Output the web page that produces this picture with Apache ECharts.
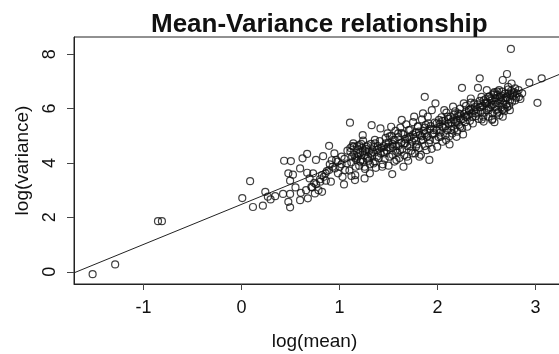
<!DOCTYPE html>
<html>
<head>
<meta charset="utf-8">
<script src="https://cdn.jsdelivr.net/npm/echarts@6/dist/echarts.min.js"></script>
<style>
  html, body { margin: 0; padding: 0; background: #fff; }
  #chart { width: 559px; height: 354px; }
</style>
</head>
<body>
<div id="chart"></div>
<script>
// tick labels
const xTicks = [-1, 0, 1, 2, 3];
const yTicks = [0, 2, 4, 6, 8];

// fitted line at both ends
const fitLine = [[-1.71, -0.04], [3.3, 7.34]];

// points: [log(mean), log(variance)]
const outliers = [
  [-1.52, -0.09], [-1.29, 0.27], [-0.853, 1.86], [-0.813, 1.86],
  [0.007, 2.71], [0.087, 3.33], [0.116, 2.38], [0.217, 2.43],
  [1.106, 5.48], [1.537, 3.59], [1.916, 4.11], [2.748, 8.19],
  [3.019, 6.21], [3.062, 7.11], [2.936, 6.95], [2.249, 6.76]
];

const lowGroup = [
  [0.242, 2.94], [0.268, 2.76], [0.296, 2.66], [0.343, 2.78], [0.423, 2.86],
  [0.434, 4.08], [0.503, 4.07], [0.477, 3.62], [0.524, 3.57], [0.495, 3.35],
  [0.477, 2.57], [0.495, 2.37], [0.495, 2.86], [0.55, 3.10], [0.597, 3.80],
  [0.597, 2.63], [0.604, 2.90], [0.622, 4.17], [0.669, 4.33], [0.669, 3.64],
  [0.676, 2.70], [0.658, 3.00], [0.712, 3.12], [0.73, 3.62], [0.759, 4.11],
  [0.694, 3.43], [0.748, 2.88], [0.785, 3.00], [0.741, 3.27], [0.821, 2.94],
  [0.803, 3.31], [0.832, 4.25], [0.839, 3.49], [0.857, 3.62], [0.893, 4.63],
  [0.911, 3.31], [0.893, 3.74], [0.929, 3.86], [0.947, 4.35], [0.965, 4.11],
  [0.983, 3.62], [0.72, 3.10], [0.76, 3.22], [0.80, 3.40], [0.82, 3.55],
  [0.87, 3.70], [0.90, 3.95], [0.92, 4.10], [0.95, 3.80], [0.98, 4.05],
  [0.86, 3.35]
];

const midGroup = [
  [1.001, 3.86], [1.02, 4.23], [1.03, 3.49], [1.045, 3.21], [1.056, 3.74],
  [1.074, 3.98], [1.121, 3.52], [1.11, 4.41], [1.128, 4.23], [1.146, 4.60],
  [1.164, 3.86], [1.157, 3.37], [1.182, 4.23], [1.2, 4.66], [1.218, 4.11],
  [1.236, 4.41], [1.255, 3.86], [1.255, 3.43], [1.273, 4.60], [1.291, 4.23],
  [1.309, 3.62], [1.327, 5.39], [1.236, 5.02], [1.327, 4.35], [1.345, 3.98],
  [1.363, 4.72], [1.381, 4.23], [1.399, 4.53], [1.417, 5.27], [1.435, 3.86],
  [1.453, 4.41], [1.471, 4.72], [1.489, 5.09], [1.508, 4.23],
  [1.02, 3.95], [1.05, 4.15], [1.08, 4.45], [1.10, 3.72], [1.12, 4.02],
  [1.13, 4.62], [1.15, 4.30], [1.16, 3.55], [1.17, 4.12], [1.19, 4.50],
  [1.20, 3.90], [1.21, 4.38], [1.22, 4.70], [1.24, 4.05], [1.25, 4.28],
  [1.26, 3.78], [1.27, 4.52], [1.28, 4.15], [1.30, 4.42], [1.31, 3.95],
  [1.32, 4.70], [1.33, 4.25], [1.35, 4.58], [1.36, 4.05], [1.37, 3.82],
  [1.38, 4.48], [1.40, 4.18], [1.41, 4.80], [1.42, 4.35], [1.44, 3.95],
  [1.45, 4.62], [1.46, 4.15], [1.47, 4.92], [1.48, 4.45], [1.50, 3.90],
  [1.50, 4.75]
];

const upperGroup = [
  [1.526, 5.33], [1.544, 4.60], [1.562, 4.84], [1.58, 4.11], [1.598, 5.09],
  [1.616, 4.47], [1.634, 5.58], [1.652, 3.86], [1.67, 4.72], [1.688, 4.23],
  [1.706, 5.21], [1.724, 4.96], [1.743, 4.35], [1.761, 5.70], [1.779, 4.60],
  [1.797, 5.33], [1.815, 4.23], [1.833, 4.84], [1.851, 5.82], [1.869, 6.43],
  [1.869, 5.09], [1.887, 4.47], [1.905, 5.45], [1.923, 4.84], [1.941, 5.94],
  [1.96, 5.21], [1.978, 6.19], [1.996, 4.60],
  [1.52, 4.55], [1.53, 5.00], [1.54, 4.30], [1.55, 4.85], [1.56, 4.05],
  [1.57, 5.18], [1.58, 4.62], [1.59, 4.38], [1.60, 4.95], [1.61, 4.18],
  [1.62, 5.30], [1.63, 4.75], [1.64, 4.50], [1.65, 5.05], [1.66, 4.28],
  [1.67, 4.88], [1.68, 5.42], [1.69, 4.62], [1.70, 4.08], [1.71, 4.95],
  [1.72, 5.22], [1.73, 4.45], [1.74, 4.78], [1.75, 5.50], [1.76, 4.90],
  [1.77, 4.35], [1.78, 5.12], [1.79, 4.68], [1.80, 5.35], [1.81, 4.55],
  [1.82, 5.02], [1.83, 4.30], [1.84, 5.60], [1.85, 4.85], [1.86, 5.18],
  [1.87, 4.62], [1.88, 5.40], [1.89, 4.95], [1.90, 5.70], [1.91, 4.72],
  [1.92, 5.25], [1.94, 4.52], [1.95, 5.05], [1.97, 5.48], [1.98, 4.85],
  [1.99, 5.20]
];

const highGroup = [
  [2.014, 5.58], [2.032, 4.96], [2.05, 5.33], [2.068, 5.94], [2.086, 4.84],
  [2.104, 5.70], [2.122, 4.68], [2.14, 5.21], [2.158, 6.07], [2.176, 5.45],
  [2.194, 4.96], [2.212, 5.82], [2.231, 5.33], [2.26, 5.05], [2.267, 6.19],
  [2.285, 5.70], [2.303, 5.33], [2.321, 5.94], [2.339, 6.37], [2.357, 5.70],
  [2.375, 6.19], [2.393, 5.82], [2.412, 6.76], [2.43, 7.11], [2.43, 6.07],
  [2.448, 6.43], [2.466, 5.70], [2.484, 6.19],
  [2.01, 4.95], [2.02, 5.42], [2.03, 5.12], [2.04, 5.68], [2.05, 4.78],
  [2.06, 5.30], [2.07, 5.55], [2.08, 5.02], [2.09, 5.85], [2.10, 5.20],
  [2.11, 5.45], [2.12, 4.98], [2.13, 5.70], [2.14, 5.35], [2.15, 5.08],
  [2.16, 5.60], [2.17, 5.25], [2.18, 5.90], [2.19, 5.50], [2.20, 5.15],
  [2.21, 5.72], [2.22, 5.40], [2.23, 6.00], [2.24, 5.60], [2.25, 5.28],
  [2.27, 5.80], [2.28, 5.50], [2.29, 6.10], [2.30, 5.68], [2.32, 5.95],
  [2.33, 5.55], [2.34, 6.22], [2.35, 5.82], [2.36, 5.45], [2.38, 6.05],
  [2.39, 5.72], [2.40, 5.98], [2.42, 5.62], [2.43, 6.28], [2.44, 5.88],
  [2.46, 6.10], [2.47, 5.52], [2.49, 6.35]
];

const topGroup = [
  [2.502, 6.68], [2.52, 5.94], [2.538, 6.37], [2.556, 5.58], [2.574, 6.56],
  [2.592, 6.07], [2.61, 5.82], [2.628, 6.68], [2.646, 6.31], [2.665, 7.05],
  [2.665, 5.70], [2.683, 6.00], [2.708, 7.27], [2.701, 6.43], [2.719, 6.80],
  [2.737, 5.94], [2.755, 6.92], [2.773, 6.56], [2.791, 6.74], [2.827, 6.68],
  [2.845, 6.35], [2.863, 6.56],
  [2.50, 5.95], [2.51, 6.22], [2.52, 5.70], [2.53, 6.45], [2.54, 6.05],
  [2.55, 6.30], [2.56, 5.82], [2.57, 6.15], [2.58, 6.60], [2.59, 6.38],
  [2.60, 5.95], [2.61, 6.50], [2.62, 6.20], [2.63, 5.75], [2.64, 6.42],
  [2.65, 6.05], [2.66, 6.62], [2.67, 6.30], [2.68, 5.90], [2.69, 6.55],
  [2.70, 6.15], [2.71, 6.40], [2.72, 6.70], [2.73, 6.10], [2.74, 6.50],
  [2.76, 6.25], [2.78, 6.60], [2.80, 6.40]
];

// the darkest part of the cloud, just above the line
const denseGroup = [
  [1.11, 4.55], [1.14, 4.72], [1.16, 4.18], [1.18, 4.62], [1.19, 4.32],
  [1.21, 4.05], [1.23, 4.55], [1.24, 4.82], [1.26, 4.45], [1.29, 4.65],
  [1.30, 4.08], [1.34, 4.40], [1.36, 4.85], [1.39, 4.62], [1.43, 4.55],
  [1.46, 4.35], [1.49, 4.58], [1.51, 4.98], [1.54, 4.70], [1.57, 4.45],
  [1.60, 4.62], [1.63, 5.10], [1.66, 4.72], [1.69, 4.90], [1.72, 4.62],
  [1.75, 5.05], [1.78, 4.82], [1.81, 5.15], [1.84, 4.98], [1.87, 5.30],
  [1.90, 5.00], [1.93, 5.35], [1.96, 5.10], [1.99, 5.45], [2.02, 5.25],
  [2.05, 5.55], [2.08, 5.35], [2.11, 5.62], [2.14, 5.50], [2.17, 5.78],
  [2.20, 5.55], [2.23, 5.80], [2.26, 5.62], [2.29, 5.90], [2.31, 5.75],
  [2.34, 6.00], [2.37, 5.90], [2.41, 6.15], [2.44, 6.05], [2.47, 6.30],
  [2.50, 6.20], [2.52, 6.42], [2.55, 6.12], [2.57, 6.50], [2.59, 6.25],
  [2.61, 6.62], [2.63, 6.35], [2.65, 6.48], [2.67, 6.15], [2.69, 6.38],
  [2.71, 6.05], [2.72, 6.55], [2.74, 6.30], [2.75, 6.65], [2.77, 6.45],
  [2.79, 6.30], [2.81, 6.55], [2.83, 6.42], [2.52, 6.00], [2.56, 5.62],
  [2.62, 5.88], [2.66, 5.95], [2.58, 5.50], [2.48, 5.85], [2.45, 5.60]
];

const allPoints = [].concat(outliers, lowGroup, midGroup, upperGroup, highGroup, topGroup, denseGroup);

const chart = echarts.init(document.getElementById('chart'), null, { renderer: 'canvas' });

const font = "'Liberation Sans', Arial, sans-serif";

chart.setOption({
  animation: false,
  backgroundColor: '#fff',
  title: {
    text: 'Mean-Variance relationship',
    left: 146,
    top: 7,
    textStyle: { fontFamily: font, fontSize: 26, fontWeight: 'bold', color: '#111' }
  },
  grid: {
    left: 74,
    top: 37,
    width: 491,
    height: 247,
    // the frame runs past the right edge of the picture, so let it
    outerBoundsMode: 'none',
    show: true,
    borderColor: '#222',
    borderWidth: 1,
    backgroundColor: 'transparent'
  },
  xAxis: {
    type: 'value',
    min: -1.71,
    max: 3.3,
    name: 'log(mean)',
    nameLocation: 'middle',
    nameGap: 48,
    nameTextStyle: { fontFamily: font, fontSize: 19, color: '#111', padding: [0, 10, 0, 0] },
    axisLine: { show: true, onZero: false, lineStyle: { color: '#222', width: 1 } },
    axisTick: { show: true, length: 6, customValues: xTicks, lineStyle: { color: '#444' } },
    axisLabel: { customValues: xTicks, fontFamily: font, fontSize: 18, color: '#111', margin: 15 },
    splitLine: { show: false }
  },
  yAxis: {
    type: 'value',
    min: -0.45,
    max: 8.63,
    name: 'log(variance)',
    nameLocation: 'middle',
    nameRotate: 90,
    nameGap: 42,
    nameTextStyle: { fontFamily: font, fontSize: 19, color: '#111' },
    axisLine: { show: true, onZero: false, lineStyle: { color: '#222', width: 1 } },
    axisTick: { show: true, length: 7, customValues: yTicks, lineStyle: { color: '#444' } },
    axisLabel: { customValues: yTicks, rotate: 90, fontFamily: font, fontSize: 18, color: '#111', margin: 15 },
    splitLine: { show: false }
  },
  series: [
    {
      type: 'line',
      data: fitLine,
      symbol: 'none',
      clip: true,
      lineStyle: { color: '#222', width: 1 },
      z: 1
    },
    {
      type: 'scatter',
      data: allPoints,
      symbol: 'circle',
      symbolSize: 7,
      clip: true,
      itemStyle: { color: 'rgba(255,255,255,0)', borderColor: '#111', borderWidth: 1.2 },
      z: 2
    }
  ]
});
</script>
</body>
</html>
